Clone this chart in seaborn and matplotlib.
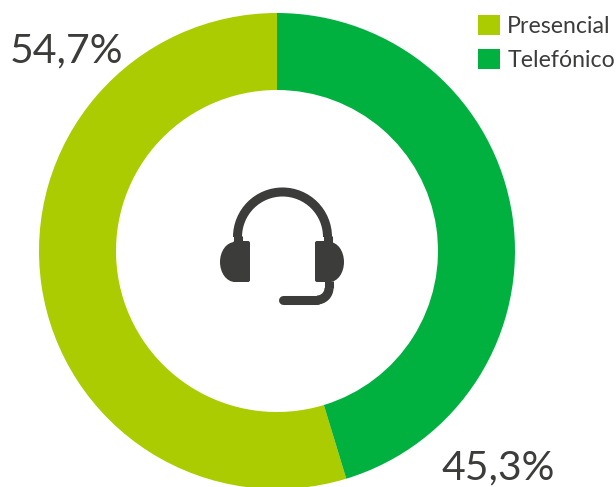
import matplotlib
matplotlib.use("Agg")
import matplotlib.pyplot as plt
from matplotlib.patches import Arc, FancyBboxPatch, Ellipse
import seaborn as sns

categories = ["Presencial", "Telefónico"]
values = [54.7, 45.3]
colors = ["#aacc00", "#00b140"]
text_color = "#3c3c3a"

W, H = 616, 487

sns.set_theme(style="white")
plt.rcParams["font.family"] = ["Lato", "DejaVu Sans"]

fig = plt.figure(figsize=(W / 100, H / 100), dpi=100)
ax = fig.add_axes([0, 0, 1, 1])

# axes in pixels, y flipped by hand so the pie keeps its direction
wedges, _ = ax.pie(values, colors=colors, startangle=90, center=(277, H - 251),
                   radius=238, wedgeprops=dict(width=77, linewidth=0), frame=True)
ax.set_xlim(0, W)
ax.set_ylim(0, H)
ax.set_aspect("equal")
ax.axis("off")

# percentages
label_pos = [(10, H - 62), (442, H - 479)]
for v, (x, y) in zip(values, label_pos):
    ax.text(x, y, f"{v:.1f}%".replace(".", ","), fontsize=29.5, color=text_color,
            ha="left", va="baseline")

ax.legend(wedges, categories, loc="upper left", bbox_to_anchor=(473 / W, 1 - 10 / H),
          frameon=False, fontsize=16.7, labelcolor=text_color, handlelength=0.95,
          handleheight=0.95, handletextpad=0.33, labelspacing=0.53, borderpad=0.2,
          borderaxespad=0)

# headset icon
def py(y):
    return H - y

ax.add_patch(Arc((282.5, py(237)), 90, 90, theta1=0, theta2=180, lw=6.5, color=text_color))
ax.plot([237.5, 237.5], [py(236), py(250)], color=text_color, lw=6.5, solid_capstyle="butt")
ax.plot([327.5, 327.5], [py(236), py(250)], color=text_color, lw=6.5, solid_capstyle="butt")

for x0, x1 in [(220, 250), (315, 344)]:
    inner = x1 if x0 == 220 else x0
    ax.add_patch(Ellipse(((x0 + x1) / 2, py(262)), x1 - x0, 40, color=text_color, lw=0))
    rx = inner - 17 if x0 == 220 else inner
    ax.add_patch(FancyBboxPatch((rx + 2, py(280)), 13, 37, boxstyle="round,pad=2",
                                color=text_color, lw=0))

ax.add_patch(Arc((317, py(288)), 24, 24, theta1=270, theta2=360, lw=6.5, color=text_color))
ax.plot([283, 317], [py(300), py(300)], color=text_color, lw=6.5, solid_capstyle="round")
ax.plot([329, 329], [py(281), py(288)], color=text_color, lw=6.5, solid_capstyle="butt")

fig.savefig("out.png", dpi=100)
